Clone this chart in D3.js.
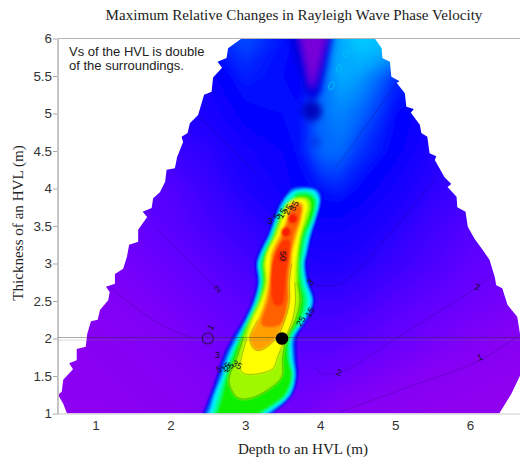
<!DOCTYPE html>
<html>
<head>
<meta charset="utf-8">
<script src="https://cdnjs.cloudflare.com/ajax/libs/d3/7.8.5/d3.min.js"></script>
<style>
  html, body { margin: 0; background: #fff; }
  svg { display: block; }
</style>
</head>
<body>
<svg id="chart" width="520" height="457"></svg>
<script>
// Text
const titleText = 'Maximum Relative Changes in Rayleigh Wave Phase Velocity';
const xTitle = 'Depth to an HVL (m)';
const yTitle = 'Thickness of an HVL (m)';
const noteLines = ['Vs of the HVL is double', 'of the surroundings.'];
const xTicks = [1, 2, 3, 4, 5, 6];
const yTicks = [1, 1.5, 2, 2.5, 3, 3.5, 4, 4.5, 5, 5.5, 6];

// Smooth background field, read by eye from the colours
const gridDepths = [0.5, 1, 1.5, 2, 2.5, 3, 3.5, 3.75, 4, 4.25, 4.5, 5, 5.5, 6, 6.7];
const gridThick = [6, 5.5, 5, 4.5, 4, 3.5, 3, 2.5, 2, 1.5, 1];
const gridValues = [
  [3.0, 3.1, 3.2, 3.4, 3.8, 4.3, 3.8, 3.6, 3.9, 5.6, 6.3, 6.0, 5.0, 4.5, 4.0],
  [3.0, 3.0, 3.1, 3.2, 3.4, 3.9, 3.7, 3.6, 4.4, 5.6, 5.4, 4.0, 3.8, 3.4, 3.0],
  [2.7, 2.8, 2.9, 3.0, 3.2, 3.6, 3.7, 3.7, 4.6, 5.0, 4.6, 3.7, 3.3, 3.0, 2.8],
  [2.4, 2.5, 2.6, 2.7, 2.9, 3.3, 3.5, 3.8, 4.5, 4.6, 4.1, 3.6, 3.1, 2.8, 2.6],
  [2.1, 2.2, 2.2, 2.3, 2.7, 3.1, 3.4, 3.6, 3.8, 3.9, 3.7, 3.3, 2.9, 2.6, 2.4],
  [1.9, 1.9, 2.0, 2.2, 2.5, 2.8, 3.1, 3.3, 3.4, 3.4, 3.3, 3.0, 2.6, 2.3, 2.1],
  [1.7, 1.7, 1.8, 2.0, 2.2, 2.5, 2.8, 3.0, 3.1, 3.1, 3.0, 2.7, 2.4, 2.1, 1.9],
  [1.5, 1.5, 1.6, 1.8, 2.0, 2.2, 2.5, 2.6, 2.7, 2.7, 2.6, 2.3, 2.1, 1.9, 1.7],
  [1.3, 1.4, 1.5, 1.6, 1.8, 2.0, 2.2, 2.3, 2.3, 2.3, 2.2, 2.0, 1.8, 1.6, 1.4],
  [1.3, 1.3, 1.4, 1.5, 1.6, 1.8, 2.0, 2.0, 2.0, 1.9, 1.8, 1.6, 1.4, 1.3, 1.2],
  [1.2, 1.2, 1.3, 1.4, 1.5, 1.7, 1.8, 1.8, 1.6, 1.5, 1.4, 1.3, 1.2, 1.15, 1.1]
];
const fieldStops = [1, 1.5, 2, 3, 3.6, 4.5, 5.5, 6.5];
const fieldColors = ['#9400ee', '#8200f6', '#6400ff', '#2400ff', '#0000ff', '#0068ff', '#00a8ff', '#00d8ff'];

// Jagged edge of the mapped area
const edgeDepth = [2.95, 2.77, 2.75, 2.63, 2.69, 2.57, 2.55, 2.45, 2.37, 2.26, 2.23, 2.15, 2.17, 2.09, 2.06, 1.95, 1.93, 1.86, 1.77, 1.75, 1.63, 1.69, 1.57, 1.57, 1.45, 1.42, 1.37, 1.26, 1.26, 1.14, 1.19, 1.17, 1.06, 1.03, 0.94, 0.89, 0.87, 0.75, 0.75, 0.65, 0.70, 0.57, 0.55, 0.50, 0.57, 0.62,
  6.39, 6.55, 6.68, 6.68, 6.63, 6.5, 6.43, 6.35, 6.33, 6.26, 6.17, 6.06, 5.97, 5.94, 5.83, 5.82, 5.7, 5.75, 5.66, 5.53, 5.55, 5.46, 5.43, 5.35, 5.33, 5.21, 5.25, 5.15, 5.13, 5.02, 5.06, 4.95, 4.93, 4.83, 4.82, 4.73];
const edgeThick = [6, 5.87, 5.74, 5.69, 5.61, 5.48, 5.29, 5.25, 4.98, 4.87, 4.74, 4.69, 4.62, 4.42, 4.27, 4.25, 4.09, 3.95, 3.87, 3.74, 3.69, 3.62, 3.45, 3.29, 3.25, 3.09, 2.93, 2.86, 2.73, 2.69, 2.62, 2.51, 2.38, 2.25, 2.23, 2.06, 1.89, 1.86, 1.71, 1.67, 1.59, 1.45, 1.29, 1.25, 1.13, 1,
  1, 1.26, 1.53, 1.98, 2.29, 2.45, 2.67, 2.71, 2.82, 3.05, 3.18, 3.33, 3.49, 3.69, 3.75, 3.89, 4.02, 4.06, 4.15, 4.38, 4.43, 4.47, 4.69, 4.74, 4.85, 5.01, 5.06, 5.09, 5.27, 5.41, 5.43, 5.49, 5.69, 5.74, 5.87, 6];

// Dark wedge and spots at the top of the map
const wedgeOuterDepth = [3.57, 4.17, 4.0, 3.89, 3.79];
const wedgeOuterThick = [6.05, 6.05, 5.27, 5.17, 5.27];
const wedgeInnerDepth = [3.72, 4.10, 3.89];
const wedgeInnerThick = [6.1, 6.1, 5.32];
const darkSpotDepth = [3.89, 3.95];
const darkSpotThick = [5.03, 4.62];
const ringDepth = [4.35, 4.25, 4.15];
const ringThick = [5.8, 5.6, 5.37];

// Ridge: where each colour band starts, left and right, per thickness
const ridgeRows = [0.85, 1, 1.25, 1.5, 1.75, 2, 2.25, 2.5, 2.75, 3, 3.15, 3.38, 3.6, 3.78];
const blueRows = ridgeRows.concat([3.92, 4.0]);
const blueLeft = [2.33, 2.43, 2.53, 2.62, 2.70, 2.82, 2.97, 3.09, 3.15, 3.13, 3.17, 3.29, 3.37, 3.43, 3.53, 3.60];
const blueRight = [3.13, 3.37, 3.63, 3.70, 3.69, 3.69, 3.83, 3.93, 3.86, 3.82, 3.85, 3.90, 3.97, 4.02, 4.03, 3.95];
const cyanRows = ridgeRows.concat([3.88, 3.97]);
const cyanLeft = [2.40, 2.51, 2.59, 2.69, 2.77, 2.89, 3.02, 3.13, 3.19, 3.17, 3.22, 3.33, 3.41, 3.49, 3.55, 3.66];
const cyanRight = [3.05, 3.29, 3.59, 3.66, 3.63, 3.63, 3.79, 3.89, 3.81, 3.78, 3.81, 3.86, 3.93, 3.98, 3.98, 3.92];
const mintRows = ridgeRows.concat([3.87, 3.95]);
const mintLeft = [2.45, 2.56, 2.64, 2.72, 2.80, 2.91, 3.03, 3.15, 3.21, 3.19, 3.24, 3.35, 3.43, 3.51, 3.60, 3.68];
const mintRight = [3.05, 3.24, 3.56, 3.64, 3.60, 3.61, 3.76, 3.84, 3.78, 3.76, 3.78, 3.83, 3.91, 3.96, 3.95, 3.88];
const greenRows = ridgeRows.concat([3.86, 3.92]);
const greenLeft = [2.50, 2.61, 2.69, 2.75, 2.83, 2.93, 3.05, 3.17, 3.23, 3.22, 3.26, 3.37, 3.45, 3.53, 3.64, 3.70];
const greenRight = [3.00, 3.19, 3.53, 3.62, 3.57, 3.59, 3.73, 3.79, 3.74, 3.73, 3.75, 3.79, 3.89, 3.93, 3.92, 3.85];
const limeRows = [1.21, 1.38, 1.5, 1.75, 2, 2.25, 2.5, 2.75, 3, 3.15, 3.38, 3.6, 3.78, 3.87];
const limeLeft = [2.90, 2.79, 2.79, 2.89, 2.97, 3.07, 3.19, 3.26, 3.25, 3.29, 3.39, 3.47, 3.55, 3.66];
const limeRight = [3.09, 3.39, 3.49, 3.50, 3.55, 3.67, 3.73, 3.70, 3.70, 3.71, 3.75, 3.83, 3.87, 3.83];
const yellowRows = [1.53, 1.6, 1.75, 2, 2.25, 2.5, 2.75, 3, 3.15, 3.38, 3.6, 3.78, 3.85];
const yellowLeft = [2.99, 2.93, 2.95, 3.02, 3.10, 3.22, 3.29, 3.27, 3.30, 3.42, 3.50, 3.57, 3.67];
const yellowRight = [3.17, 3.37, 3.43, 3.53, 3.63, 3.67, 3.66, 3.67, 3.69, 3.73, 3.79, 3.83, 3.79];
const orangeRows = [1.85, 2, 2.25, 2.5, 2.75, 3, 3.15, 3.38, 3.6, 3.78, 3.82];
const orangeLeft = [3.13, 3.06, 3.17, 3.26, 3.31, 3.33, 3.35, 3.46, 3.55, 3.59, 3.66];
const orangeRight = [3.22, 3.41, 3.53, 3.59, 3.59, 3.62, 3.63, 3.69, 3.75, 3.77, 3.73];
const flameRows = [2.18, 2.5, 2.75, 3, 3.38, 3.6, 3.77];
const flameLeft = [3.22, 3.30, 3.34, 3.37, 3.50, 3.58, 3.63];
const flameRight = [3.46, 3.57, 3.57, 3.59, 3.65, 3.73, 3.74];
const redRows = [2.45, 2.65, 2.89, 3.11, 3.31];
const redLeft = [3.39, 3.34, 3.34, 3.38, 3.49];
const redRight = [3.49, 3.53, 3.55, 3.59, 3.59];
const redSpotDepth = [3.63, 3.54, 3.50];
const redSpotThick = [3.6, 3.42, 3.09];

// Faint contour lines in the low part of the field
const contourLines = [
  { depth: [4.26, 5.06, 6.13, 6.66], thick: [1.02, 1.31, 1.71, 2.05] },
  { depth: [3.93, 3.99, 4.25, 4.99, 6.1, 6.26], thick: [1.62, 1.55, 1.54, 1.99, 2.69, 2.82] },
  { depth: [1.17, 1.86, 2.35], thick: [2.7, 2.19, 1.99] },
  { depth: [1.82, 2.63], thick: [3.45, 2.66] },
  { depth: [2.39, 3.15], thick: [4.95, 4.2] },
  { depth: [5.55, 4.97, 4.26, 3.9], thick: [4.15, 3.45, 2.73, 2.72] },
  { depth: [5.03, 4.22], thick: [5.42, 4.29] }
];

// Contour labels
const labelText = ['2', '1', '2', '2', '1', '50', '3', '25', '15', '3', '5', '15', '25', '35', '3', '5', '15', '25', '35'];
const labelDepth = [2.63, 2.54, 6.1, 4.25, 6.13, 3.5, 3.87, 3.74, 3.86, 3.33, 3.42, 3.49, 3.57, 3.65, 2.63, 2.65, 2.74, 2.78, 2.89];
const labelThick = [2.66, 2.15, 2.69, 1.55, 1.75, 3.1, 2.75, 2.23, 2.35, 3.57, 3.63, 3.67, 3.72, 3.77, 1.78, 1.59, 1.62, 1.62, 1.65];
const labelAngle = [-45, -60, 10, 10, -20, 90, -45, -60, -60, 0, -60, -60, -60, -60, 0, -20, -40, -40, 30];

// The two model points on the line thickness = 2
const pointDepth = [2.5, 3.49];
const pointThick = [2, 2];

const svg = d3.select('#chart');
const x = d3.scaleLinear().domain([0.5, 6.667]).range([58, 520]);
const y = d3.scaleLinear().domain([1, 6]).range([413.5, 38.5]);

const defs = svg.append('defs');
const blur = (id, sd) => defs.append('filter').attr('id', id)
  .attr('x', '-20%').attr('y', '-20%').attr('width', '140%').attr('height', '140%')
  .append('feGaussianBlur').attr('stdDeviation', sd);
blur('soft', 1.1);
blur('field', 4);
blur('softer', 3);

const edgeLine = d3.line();
defs.append('clipPath').attr('id', 'area').append('path')
  .attr('d', edgeLine(edgeDepth.map((d, i) => [x(d), y(edgeThick[i])])) + 'Z');

const map = svg.append('g').attr('clip-path', 'url(#area)');

// Background field, non uniform grid mapped back through index scales
const nCols = gridDepths.length, nRows = gridThick.length;
const colScale = d3.scaleLinear().domain(d3.range(nCols).map(i => i + 0.5)).range(gridDepths);
const rowScale = d3.scaleLinear().domain(d3.range(nRows).map(i => i + 0.5)).range(gridThick);
const fieldColor = d3.scaleLinear().domain(fieldStops).range(fieldColors).clamp(true);
const contours = d3.contours().size([nCols, nRows]).thresholds(d3.range(1, 6.5, 0.05));
const gridPath = d3.geoPath(d3.geoTransform({
  point(px, py) { this.stream.point(x(colScale(px)), y(rowScale(py))); }
}));

map.append('g').attr('filter', 'url(#field)')
  .selectAll('path').data(contours(gridValues.flat())).join('path')
  .attr('d', gridPath)
  .attr('fill', d => fieldColor(d.value));

// Wedge at the top
const wedge = map.append('g').attr('filter', 'url(#softer)');
const closedLine = d3.line().curve(d3.curveLinearClosed);
wedge.append('path')
  .attr('d', closedLine(wedgeOuterDepth.map((d, i) => [x(d), y(wedgeOuterThick[i])])))
  .attr('fill', '#0000e0');
wedge.append('path')
  .attr('d', closedLine(wedgeInnerDepth.map((d, i) => [x(d), y(wedgeInnerThick[i])])))
  .attr('fill', '#7800d8');
wedge.selectAll('circle').data(darkSpotDepth).join('circle')
  .attr('cx', d => x(d))
  .attr('cy', (d, i) => y(darkSpotThick[i]))
  .attr('r', (d, i) => i === 0 ? 10 : 5)
  .attr('fill', '#0000b8')
  .attr('fill-opacity', (d, i) => i === 0 ? 0.9 : 0.3);

map.append('g').selectAll('ellipse').data(ringDepth).join('ellipse')
  .attr('cx', d => x(d))
  .attr('cy', (d, i) => y(ringThick[i]))
  .attr('rx', 2.5).attr('ry', 4)
  .attr('transform', (d, i) => `rotate(25 ${x(d)} ${y(ringThick[i])})`)
  .attr('fill', 'none').attr('stroke', '#00c8f0').attr('stroke-width', 0.8);

// Ridge bands, outside to inside
const bands = [
  { rows: blueRows, left: blueLeft, right: blueRight, color: '#0000f0' },
  { rows: blueRows, left: blueLeft.map(d => d + 0.035), right: blueRight.map(d => d - 0.035), color: '#0070ff' },
  { rows: cyanRows, left: cyanLeft, right: cyanRight, color: '#00f0ff' },
  { rows: mintRows, left: mintLeft, right: mintRight, color: '#00ff90' },
  { rows: greenRows, left: greenLeft, right: greenRight, color: '#10f000' },
  { rows: limeRows, left: limeLeft, right: limeRight, color: '#a0f800' },
  { rows: yellowRows, left: yellowLeft, right: yellowRight, color: '#ffff00' },
  { rows: orangeRows, left: orangeLeft, right: orangeRight, color: '#ffa000' },
  { rows: flameRows, left: flameLeft, right: flameRight, color: '#ff6000' },
  { rows: redRows, left: redLeft, right: redRight, color: '#ff3400' }
];
const bandOutline = b => b.left.map((d, i) => [x(d), y(b.rows[i])])
  .concat(b.right.map((d, i) => [x(d), y(b.rows[i])]).reverse());
const bandLine = d3.line().curve(d3.curveCatmullRomClosed.alpha(0.5));

const ridge = map.append('g').attr('filter', 'url(#soft)');
ridge.selectAll('path').data(bands).join('path')
  .attr('d', b => bandLine(bandOutline(b)))
  .attr('fill', b => b.color);
ridge.selectAll('circle').data(redSpotDepth).join('circle')
  .attr('cx', d => x(d))
  .attr('cy', (d, i) => y(redSpotThick[i]))
  .attr('r', 5)
  .attr('fill', '#f81c00');

// Thin contour lines round the lower ends of the inner bands
const openLine = d3.line().curve(d3.curveCatmullRom.alpha(0.5));
[[bands[5], 5], [bands[6], 4], [bands[7], 3]].forEach(([b, n]) => {
  const pts = b.left.slice(0, n).map((d, i) => [x(d), y(b.rows[i])]).reverse()
    .concat(b.right.slice(0, n + 3).map((d, i) => [x(d), y(b.rows[i])]));
  map.append('path').attr('d', openLine(pts))
    .attr('fill', 'none').attr('stroke', '#3a4a00').attr('stroke-opacity', 0.5).attr('stroke-width', 0.6);
});

map.append('g').selectAll('path').data(contourLines).join('path')
  .attr('d', c => openLine(c.depth.map((d, i) => [x(d), y(c.thick[i])])))
  .attr('fill', 'none').attr('stroke', '#1a0060').attr('stroke-opacity', 0.3).attr('stroke-width', 0.8);

// Frame
const frame = svg.append('g').attr('fill', 'none').attr('stroke', '#c4c4c4');
frame.append('line').attr('x1', x(0.5)).attr('x2', x(6.667)).attr('y1', y(6)).attr('y2', y(6)).attr('stroke', '#b4b4b4');
frame.append('line').attr('x1', x(0.5)).attr('x2', x(6.667)).attr('y1', y(1) + 0.5).attr('y2', y(1) + 0.5).attr('stroke', '#dcdcdc').attr('stroke-width', 1.5);
frame.append('line').attr('x1', x(0.5)).attr('x2', x(0.5)).attr('y1', y(6)).attr('y2', y(1) + 1).attr('stroke-width', 2);

const xAxis = d3.axisBottom(x).tickValues(xTicks).tickSize(0).tickPadding(7).tickFormat(d3.format('d'));
const yAxis = d3.axisLeft(y).tickValues(yTicks).tickSize(4).tickPadding(1).tickFormat(d => String(d));
const axisStyle = g => {
  g.select('.domain').remove();
  g.selectAll('line').attr('stroke', '#a8a8a8');
  g.selectAll('text').attr('fill', '#333').attr('font-size', 13.4)
    .attr('font-family', '"Liberation Sans", Arial, sans-serif');
};
svg.append('g').attr('transform', `translate(0,${y(1)})`).call(xAxis).call(axisStyle);
svg.append('g').attr('transform', `translate(${x(0.5) - 1},0)`).call(yAxis).call(axisStyle);

// Horizontal section line at thickness 2
svg.append('line').attr('x1', x(0.5)).attr('x2', 520).attr('y1', y(2) - 1).attr('y2', y(2) - 1)
  .attr('stroke', '#303030').attr('stroke-opacity', 0.45).attr('stroke-width', 0.9);
svg.append('line').attr('x1', x(0.5)).attr('x2', 520).attr('y1', y(2) + 1.6).attr('y2', y(2) + 1.6)
  .attr('stroke', '#808080').attr('stroke-opacity', 0.3).attr('stroke-width', 0.9);

// Contour labels
svg.append('g').selectAll('text').data(labelText).join('text')
  .attr('transform', (d, i) => `translate(${x(labelDepth[i])},${y(labelThick[i])}) rotate(${labelAngle[i]})`)
  .attr('text-anchor', 'middle').attr('dy', '0.35em')
  .attr('font-family', '"Liberation Sans", Arial, sans-serif').attr('font-size', 9)
  .attr('fill', '#10101c')
  .text(d => d);

// Model points
svg.append('circle').attr('cx', x(pointDepth[0])).attr('cy', y(pointThick[0])).attr('r', 5.5)
  .attr('fill', 'none').attr('stroke', '#2a1050').attr('stroke-width', 1.1);
svg.append('circle').attr('cx', x(pointDepth[1])).attr('cy', y(pointThick[1])).attr('r', 6.3)
  .attr('fill', '#000');

// Titles and note
svg.append('text').attr('x', 294).attr('y', 20).attr('text-anchor', 'middle')
  .attr('font-family', '"Liberation Serif", "Times New Roman", serif').attr('font-size', 15.1).attr('fill', '#222')
  .text(titleText);
svg.append('text').attr('x', 303).attr('y', 454).attr('text-anchor', 'middle')
  .attr('font-family', '"Liberation Serif", "Times New Roman", serif').attr('font-size', 15.1).attr('fill', '#222')
  .text(xTitle);
svg.append('text').attr('transform', 'translate(23,223) rotate(-90)').attr('text-anchor', 'middle')
  .attr('font-family', '"Liberation Serif", "Times New Roman", serif').attr('font-size', 15.1).attr('fill', '#222')
  .text(yTitle);
svg.append('g').selectAll('text').data(noteLines).join('text')
  .attr('x', 69).attr('y', (d, i) => 56 + i * 14)
  .attr('font-family', '"Liberation Sans", Arial, sans-serif').attr('font-size', 13).attr('fill', '#222')
  .text(d => d);
</script>
</body>
</html>
